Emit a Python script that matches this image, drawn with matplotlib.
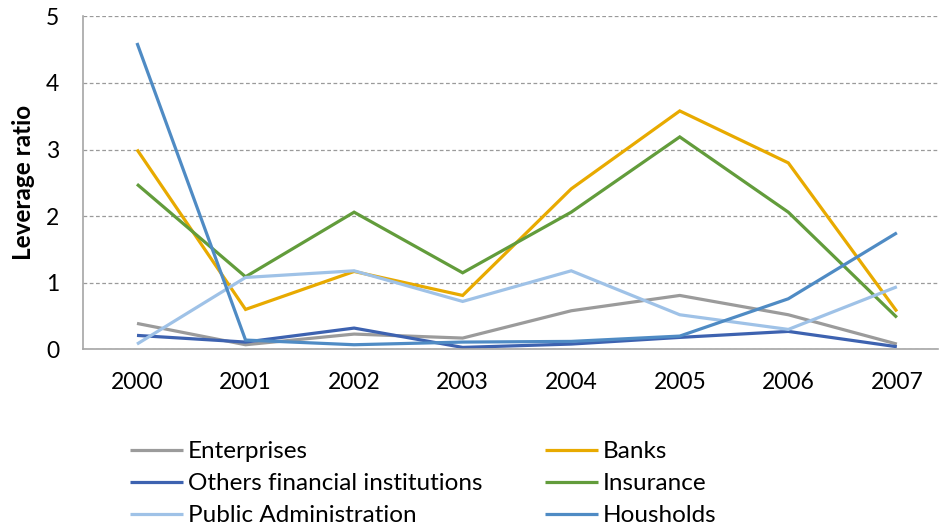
import matplotlib.pyplot as plt
import numpy as np

plt.rcParams["font.family"] = ["Lato", "DejaVu Sans"]

years = ["2000", "2001", "2002", "2003", "2004", "2005", "2006", "2007"]

enterprises = [0.39, 0.07, 0.23, 0.17, 0.58, 0.81, 0.52, 0.08]
banks = [3.00, 0.60, 1.17, 0.81, 2.41, 3.58, 2.80, 0.57]
others_fin = [0.21, 0.11, 0.32, 0.03, 0.08, 0.18, 0.27, 0.04]
insurance = [2.48, 1.09, 2.06, 1.15, 2.06, 3.19, 2.06, 0.48]
public_adm = [0.08, 1.08, 1.18, 0.72, 1.18, 0.52, 0.30, 0.94]
households = [4.60, 0.14, 0.07, 0.11, 0.12, 0.20, 0.76, 1.75]

series = [
    ("Enterprises", enterprises, "#9b9b9b"),
    ("Banks", banks, "#e8aa00"),
    ("Others financial institutions", others_fin, "#3d62b0"),
    ("Insurance", insurance, "#629c3b"),
    ("Public Administration", public_adm, "#9fc2e7"),
    ("Housholds", households, "#4f8bc4"),
]

fig = plt.figure(figsize=(9.4, 5.27), dpi=100)
ax = fig.add_axes([0.088, 0.337, 0.91, 0.632])

x = np.arange(len(years))
lines = {}
for name, vals, col in series:
    lines[name], = ax.plot(x, vals, color=col, lw=2.3, label=name,
                           solid_joinstyle="miter", solid_capstyle="butt")

ax.set_xlim(-0.5, 7.38)
ax.set_ylim(0, 5)
ax.set_xticks(x)
ax.set_xticklabels(years, fontsize=16.5)
ax.set_yticks(range(6))
ax.tick_params(axis="y", labelsize=16.5, length=0, pad=17)
ax.tick_params(axis="x", length=0, pad=16)
ax.grid(axis="y", color="#9a9a9a", ls=(0, (3, 2)), lw=0.9)
ax.set_axisbelow(True)
for s in ["top", "right"]:
    ax.spines[s].set_visible(False)
for s in ["left", "bottom"]:
    ax.spines[s].set_color("#a6a6a6")
    ax.spines[s].set_linewidth(1.2)
ax.set_ylabel("Leverage ratio", fontsize=17.5, fontweight="bold", labelpad=8)

# two legend columns placed separately
left_names = ["Enterprises", "Others financial institutions", "Public Administration"]
right_names = ["Banks", "Insurance", "Housholds"]
leg_kw = dict(frameon=False, loc="upper left", fontsize=17.5, handlelength=2.18,
              handletextpad=0.2, labelspacing=0.46, borderpad=0, borderaxespad=0)
leg1 = fig.legend([lines[n] for n in left_names], left_names,
                  bbox_to_anchor=(130 / 940, 1 - 441 / 527), **leg_kw)
leg2 = fig.legend([lines[n] for n in right_names], right_names,
                  bbox_to_anchor=(545 / 940, 1 - 441 / 527), **leg_kw)

fig.savefig("out.png", dpi=100)
